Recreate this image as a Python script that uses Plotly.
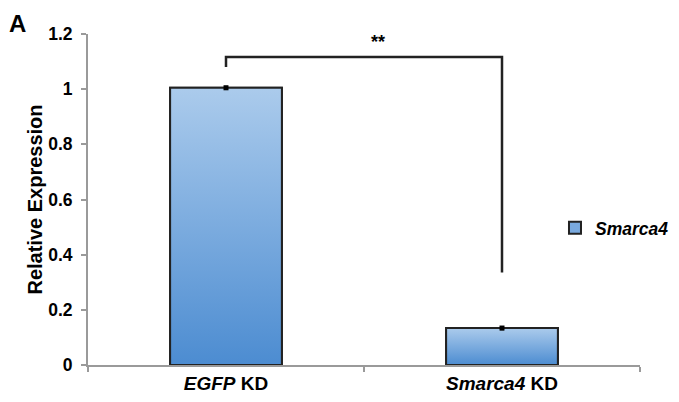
import plotly.graph_objects as go

# ---- data ----
categories = ["<i>EGFP</i> KD", "<i>Smarca4</i> KD"]
series_name = "<i>Smarca4</i>"
values = [1.005, 0.134]
errors = [0.004, 0.004]
y_ticks = [0, 0.2, 0.4, 0.6, 0.8, 1.0, 1.2]
y_tick_labels = ["0", "0.2", "0.4", "0.6", "0.8", "1", "1.2"]
sig_label = "**"
bracket_top = 1.117
bracket_left_low = 1.08
bracket_right_low = 0.335

# ---- style ----
FONT = "Arial, 'Liberation Sans', sans-serif"
bar_width = 0.405
top_col = "#abcbec"
bot_col = "#4c8cd1"
mid_col = "#79a9de"
axis_col = "#9a9a9a"

x_idx = list(range(len(categories)))

fig = go.Figure()

# base bar trace (data + legend)
fig.add_trace(go.Bar(
    x=x_idx, y=values, width=bar_width, name=f"<b>{series_name}</b>",
    marker=dict(color=mid_col, line=dict(color="#222222", width=2)),
    showlegend=True,
))

# gradient overlays derived from the same data
for i, v in zip(x_idx, values):
    x0, x1 = i - bar_width / 2, i + bar_width / 2
    fig.add_trace(go.Scatter(
        x=[x0, x0, x1, x1, x0], y=[0, v, v, 0, 0],
        mode="lines", fill="toself",
        fillgradient=dict(type="vertical",
                          colorscale=[[0, bot_col], [1, top_col]]),
        line=dict(color="#222222", width=2),
        showlegend=False, hoverinfo="skip",
    ))

# error bars (tiny)
fig.add_trace(go.Scatter(
    x=x_idx, y=values, mode="markers",
    marker=dict(symbol="square", size=5, color="black"),
    error_y=dict(type="data", array=errors, color="black", thickness=2, width=2),
    showlegend=False, hoverinfo="skip",
))

# significance bracket
fig.add_shape(type="path",
              path=f"M {x_idx[0]},{bracket_left_low} L {x_idx[0]},{bracket_top} "
                   f"L {x_idx[1]},{bracket_top} L {x_idx[1]},{bracket_right_low}",
              xref="x", yref="y", line=dict(color="#222222", width=2.5))
fig.add_annotation(x=0.55, y=bracket_top + 0.012, xref="x", yref="y",
                   text=f"<b>{sig_label}</b>", showarrow=False, yanchor="bottom",
                   font=dict(family=FONT, size=18, color="black"))

# panel letter
fig.add_annotation(x=-0.146, y=1.078, xref="paper", yref="paper",
                   xanchor="left", yanchor="top", text="<b>A</b>", showarrow=False,
                   font=dict(family=FONT, size=24, color="black"))

# page has an 8px body margin: shrink the figure so the plot area lands in place
fig.update_layout(
    width=671, height=394,
    margin=dict(l=80, r=39, t=26, b=37, autoexpand=False),
    paper_bgcolor="white", plot_bgcolor="white",
    font=dict(family=FONT, color="black"),
    barmode="overlay",
    legend=dict(x=0.846, y=0.414, xanchor="left", yanchor="middle",
                font=dict(family=FONT, size=17.5, color="black"),
                bgcolor="rgba(0,0,0,0)", itemwidth=30),
    xaxis=dict(
        range=[-0.5, 1.5], tickmode="array", tickvals=x_idx,
        ticktext=[f"<b>{c}</b>" for c in categories],
        ticks="", showgrid=False, zeroline=False, automargin=False,
        showline=True, linecolor=axis_col, linewidth=2,
        tickfont=dict(family=FONT, size=19, color="black"),
        minor=dict(tickmode="array", tickvals=[-0.5, 0.5, 1.5], ticks="outside",
                   ticklen=5, tickcolor=axis_col, tickwidth=2, showgrid=False),
    ),
    yaxis=dict(
        range=[0, 1.2], tickmode="array", tickvals=y_ticks,
        ticktext=[f"<b>{t}</b>" for t in y_tick_labels],
        ticks="outside", ticklen=5, tickcolor=axis_col, tickwidth=2,
        ticklabelstandoff=5,
        showgrid=False, zeroline=False, automargin=False,
        showline=True, linecolor=axis_col, linewidth=2,
        tickfont=dict(family=FONT, size=17.5, color="black"),
        title=dict(text="<b>Relative Expression</b>", standoff=0,
                   font=dict(family=FONT, size=20, color="black")),
    ),
)

fig.write_html("out.html")
